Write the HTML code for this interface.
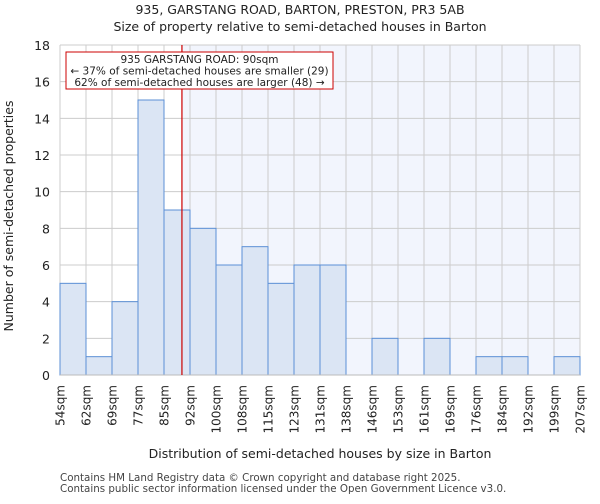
<!DOCTYPE html>
<html><head><meta charset="utf-8"><style>
body{margin:0;background:#fff;font-family:"DejaVu Sans","Liberation Sans",sans-serif;}
</style></head><body>
<svg id="chart" width="600" height="500" xmlns="http://www.w3.org/2000/svg" font-family="DejaVu Sans, Liberation Sans, sans-serif">
<text x="300" y="14" text-anchor="middle" font-size="12.5" fill="#222">935, GARSTANG ROAD, BARTON, PRESTON, PR3 5AB</text>
<text x="300" y="31" text-anchor="middle" font-size="12.5" fill="#222">Size of property relative to semi-detached houses in Barton</text>
<g id="plot"></g>
<text transform="translate(13,216) rotate(-90)" text-anchor="middle" font-size="12.5" fill="#222">Number of semi-detached properties</text>
<text x="320" y="458" text-anchor="middle" font-size="12.5" fill="#222">Distribution of semi-detached houses by size in Barton</text>
<text x="60" y="481" font-size="10.3" fill="#444">Contains HM Land Registry data © Crown copyright and database right 2025.</text>
<text x="60" y="492" font-size="10.3" fill="#444">Contains public sector information licensed under the Open Government Licence v3.0.</text>
</svg>
<script>
const edgeLabels=["54sqm","62sqm","69sqm","77sqm","85sqm","92sqm","100sqm","108sqm","115sqm","123sqm","131sqm","138sqm","146sqm","153sqm","161sqm","169sqm","176sqm","184sqm","192sqm","199sqm","207sqm"];
const counts=[5,1,4,15,9,8,6,7,5,6,6,0,2,0,2,0,1,1,0,1];
const yTicks=[0,2,4,6,8,10,12,14,16,18];
const propertyBinPos=[4.69];
const NS="http://www.w3.org/2000/svg";
const g=document.getElementById('plot');
const L=60,R=580,T=45,B=375,yMax=18;
const bw=(R-L)/counts.length;
const xs=i=>L+i*bw;
const ys=v=>B-(v/yMax)*(B-T);
function mk(t,a){const e=document.createElementNS(NS,t);for(const k in a)e.setAttribute(k,a[k]);g.appendChild(e);return e;}
const mx=xs(propertyBinPos[0]);
let e=mk('rect',{x:mx,y:T,width:R-mx,height:B-T,fill:'#f2f5fd'});


yTicks.forEach(v=>{
 let l=mk('line',{x1:L,x2:R,y1:ys(v),y2:ys(v),stroke:'#cccccc','stroke-width':1});
 
 
 let t=mk('text',{x:L-10,y:ys(v)+5,'text-anchor':'end','font-size':12.5,fill:'#222'});
 t.textContent=v;
 
 
});
edgeLabels.forEach((s,i)=>{
 let l=mk('line',{x1:xs(i),x2:xs(i),y1:T,y2:B,stroke:'#cccccc','stroke-width':1});
 
 
 let t=mk('text',{transform:`translate(${xs(i)+4.5},${B+10}) rotate(-90)`,'text-anchor':'end','font-size':12,fill:'#222'});
 t.textContent=s;
 
 
});
counts.forEach((c,i)=>{
 if(c<=0)return;
 let r=mk('rect',{x:xs(i),y:ys(c),width:bw,height:B-ys(c),fill:'#dbe5f4',stroke:'#5b8fd6','stroke-width':1});
 
 
});
let ax=mk('line',{x1:L,x2:R,y1:B,y2:B,stroke:'#bbb'});


let ml=mk('line',{x1:mx,x2:mx,y1:T,y2:B,stroke:'#cc0000','stroke-width':1.2});


let box=mk('rect',{x:66,y:52,width:267,height:37,fill:'#fff',stroke:'#cc0000','stroke-width':1});


const ann=["935 GARSTANG ROAD: 90sqm","← 37% of semi-detached houses are smaller (29)","62% of semi-detached houses are larger (48) →"];
ann.forEach((s,i)=>{
 let t=mk('text',{x:199.5,y:63+i*11.5,'text-anchor':'middle','font-size':10.5,fill:'#222'});
 t.textContent=s;
 
 
});
</script>
</body></html>
